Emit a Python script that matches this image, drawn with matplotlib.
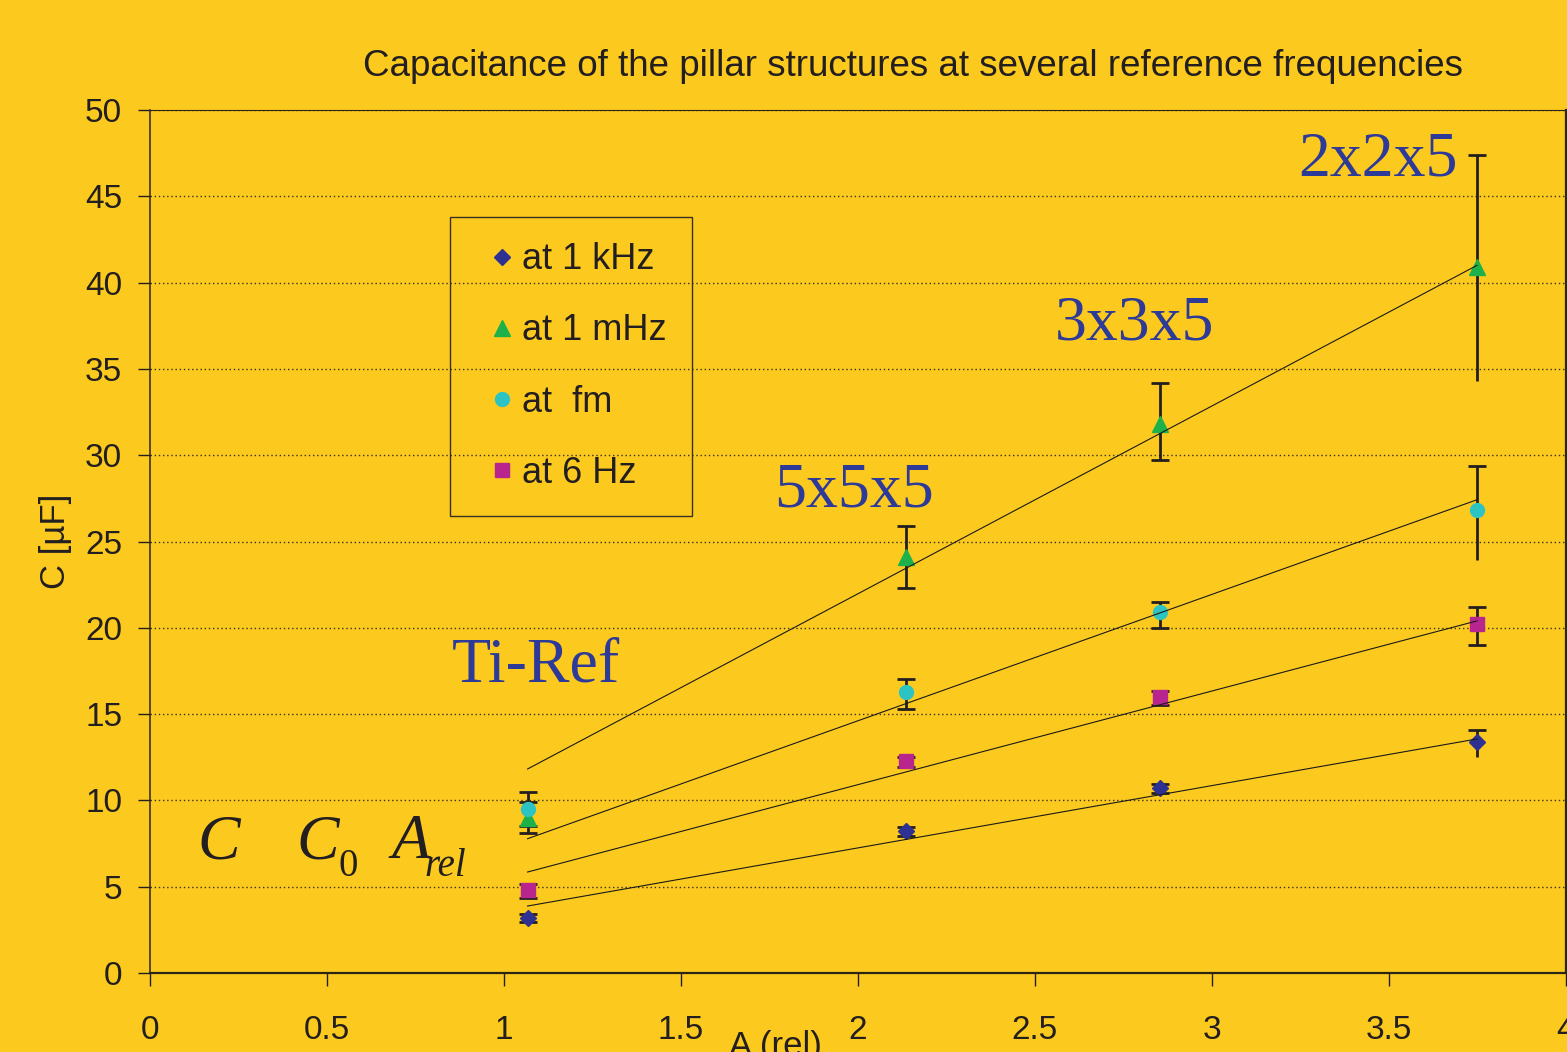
import matplotlib
matplotlib.use("Agg")
import matplotlib.pyplot as plt
import numpy as np
from matplotlib.lines import Line2D

# ---------------- data ----------------
x_pos = [1.067, 2.137, 2.855, 3.75]

c_1khz = [3.2, 8.23, 10.7, 13.4]
e_1khz_lo = [0.25, 0.28, 0.3, 0.9]
e_1khz_hi = [0.2, 0.25, 0.25, 0.7]
cap_1khz_lo = [True, True, True, False]

c_1mhz = [9.0, 24.1, 31.8, 40.9]
e_1mhz_lo = [0.9, 1.8, 2.1, 6.6]
e_1mhz_hi = [0.9, 1.8, 2.4, 6.5]
cap_1mhz_lo = [True, True, True, False]

c_fm = [9.5, 16.3, 20.9, 26.8]
e_fm_lo = [1.0, 1.0, 0.9, 2.85]
e_fm_hi = [1.0, 0.75, 0.6, 2.6]
cap_fm_lo = [True, True, True, False]

c_6hz = [4.8, 12.28, 16.0, 20.2]
e_6hz_lo = [0.45, 0.35, 0.45, 1.2]
e_6hz_hi = [0.35, 0.25, 0.35, 1.0]
cap_6hz_lo = [True, True, True, True]

# linear trend lines (end points)
fit_x = [1.067, 3.75]
fit_1khz = [3.88, 13.56]
fit_1mhz = [11.82, 41.0]
fit_fm = [7.78, 27.42]
fit_6hz = [5.85, 20.4]

labels = ["at 1 kHz", "at 1 mHz", "at  fm", "at 6 Hz"]
title = "Capacitance of the pillar structures at several reference frequencies"
sample_names = ["Ti-Ref", "5x5x5", "3x3x5", "2x2x5"]
sample_x = [0.852, 1.763, 2.558, 3.244]
sample_y = [16.86, 27.0, 36.7, 46.2]

# ---------------- style ----------------
BG = "#FCCA1F"
DARK = "#231F20"
BLUE_T = "#2E3A97"
col_1khz = "#2E3192"
col_1mhz = "#1DB14B"
col_fm = "#2EC3C3"
col_6hz = "#B8258F"

plt.rcParams["font.family"] = ["Liberation Sans", "DejaVu Sans"]

fig = plt.figure(figsize=(15.67, 10.52), dpi=100, facecolor=BG)
ax = fig.add_axes([150 / 1567, 79 / 1052, 1415.5 / 1567, 863 / 1052])
ax.set_facecolor(BG)
ax.set_xlim(0, 4)
ax.set_ylim(0, 50)

ax.set_yticks(np.arange(0, 51, 5))
ax.set_xticks([0, 0.5, 1, 1.5, 2, 2.5, 3, 3.5, 4])
ax.set_xticklabels(["0", "0.5", "1", "1.5", "2", "2.5", "3", "3.5", "4"])
ax.tick_params(axis="y", direction="out", length=9, width=1.0, pad=11,
               labelsize=24, colors=DARK)
ax.tick_params(axis="x", direction="out", length=9, width=1.0, pad=21,
               labelsize=24, colors=DARK)
ax.yaxis.grid(True, linestyle=(0, (1, 2)), color="#3a3020", linewidth=1.0)
ax.set_axisbelow(True)

for side in ["left", "bottom", "top", "right"]:
    ax.spines[side].set_color("#2a2515")
ax.spines["left"].set_linewidth(1.1)
ax.spines["bottom"].set_linewidth(1.6)
ax.spines["top"].set_linewidth(0.8)
ax.spines["right"].set_linewidth(1.6)

series = [
    (c_1khz, e_1khz_lo, e_1khz_hi, cap_1khz_lo, col_1khz, "D", 8.0),
    (c_1mhz, e_1mhz_lo, e_1mhz_hi, cap_1mhz_lo, col_1mhz, "^", 11.5),
    (c_fm, e_fm_lo, e_fm_hi, cap_fm_lo, col_fm, "o", 10.0),
    (c_6hz, e_6hz_lo, e_6hz_hi, cap_6hz_lo, col_6hz, "s", 10.0),
]

xs = np.array(x_pos)
for vals, lo, hi, caplo, col, mk, ms in series:
    v = np.array(vals)
    lo = np.array(lo)
    hi = np.array(hi)
    ax.errorbar(xs, v, yerr=[lo, hi], fmt="none", ecolor=DARK, elinewidth=2.0,
                capsize=0, zorder=3)
    ax.plot(xs, v + hi, ls="none", marker="_", ms=13, mew=2.0, color=DARK, zorder=3)
    m = np.array(caplo)
    ax.plot(xs[m], (v - lo)[m], ls="none", marker="_", ms=13, mew=2.0, color=DARK, zorder=3)

for vals, lo, hi, caplo, col, mk, ms in series:
    ax.plot(xs, vals, ls="none", marker=mk, ms=ms, color=col, mec=col, zorder=4)

for fy in [fit_1khz, fit_1mhz, fit_fm, fit_6hz]:
    ax.plot(fit_x, fy, color="#1a1a1a", lw=0.8, zorder=5)

# legend
handles = [Line2D([], [], ls="none", marker=mk, ms=ms, color=col, mec=col)
           for (_, _, _, _, col, mk, ms) in series]
leg = ax.legend(handles, labels, loc="upper left", bbox_to_anchor=(0.2119, 0.876),
                borderaxespad=0, fontsize=26, frameon=True, fancybox=False,
                edgecolor="#3a3020", facecolor="none", borderpad=0.7,
                handlelength=1.5, handletextpad=-0.2, labelspacing=1.0,
                labelcolor=DARK)
leg.get_frame().set_linewidth(1.0)
leg.get_frame().set_alpha(None)

# sample annotations
for name, sx, sy in zip(sample_names, sample_x, sample_y):
    ax.text(sx, sy, name, family="Liberation Serif", fontsize=46, color=BLUE_T,
            ha="left", va="baseline", zorder=6)

# formula text C  C0  A_rel
ser = "Liberation Serif"
ax.text(0.133, 6.66, "C", family=ser, style="italic", fontsize=46, color=DARK, va="baseline")
ax.text(0.415, 6.66, "C", family=ser, style="italic", fontsize=46, color=DARK, va="baseline")
ax.text(0.532, 5.62, "0", family=ser, fontsize=28, color=DARK, va="baseline")
ax.text(0.683, 6.66, "A", family=ser, style="italic", fontsize=46, color=DARK, va="baseline")
ax.text(0.776, 5.62, "rel", family=ser, style="italic", fontsize=28, color=DARK, va="baseline")

fig.text(913 / 1567, 1 - 66 / 1052, title, fontsize=26.5, color=DARK,
         ha="center", va="center")

ax.set_ylabel("C [µF]", fontsize=25, color=DARK)
ax.yaxis.set_label_coords(-0.055, 0.5)
ax.set_xlabel("A (rel)", fontsize=25, color=DARK, va="top")
ax.xaxis.set_label_coords(0.442, -0.066)

fig.savefig("out.png", dpi=100, facecolor=BG)
